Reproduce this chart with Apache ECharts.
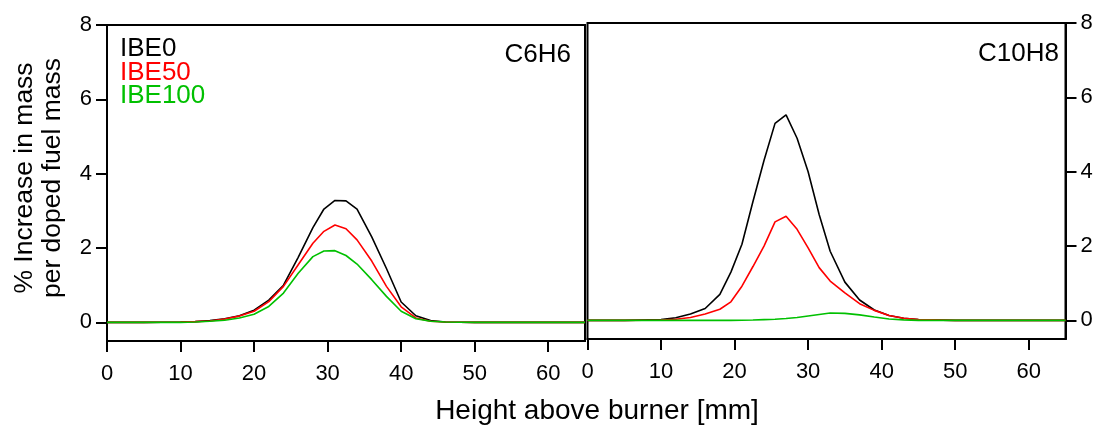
<!DOCTYPE html>
<html>
<head>
<meta charset="utf-8">
<script src="https://cdn.jsdelivr.net/npm/echarts@6/dist/echarts.min.js"></script>
<style>
html,body{margin:0;padding:0;background:#fff;}
#chart{width:1100px;height:427px;}
</style>
</head>
<body>
<div id="chart"></div>
<script>
// ---- data ----
var xTicks = [0, 10, 20, 30, 40, 50, 60];
var yTicks = [0, 2, 4, 6, 8];
var seriesNames = ['IBE0', 'IBE50', 'IBE100'];
var panelNames = ['C6H6', 'C10H8'];

// C6H6 panel: height above burner [mm]
var xC6H6 = [0,5,10,12,14,16,18,20,22,24,26,28,29.5,31,32.5,34,36,38,40,42,44,46,50,55,60,65];
var c6h6_IBE0   = [0,0,0.01,0.02,0.05,0.1,0.18,0.33,0.6,1.0,1.75,2.55,3.05,3.28,3.27,3.05,2.3,1.45,0.55,0.18,0.05,0.01,0,0,0,0];
var c6h6_IBE50  = [0,0,0.01,0.02,0.04,0.09,0.17,0.3,0.56,0.97,1.55,2.13,2.45,2.62,2.52,2.22,1.65,0.97,0.42,0.12,0.03,0.01,0,0,0,0];
var c6h6_IBE100 = [0,0,0,0.01,0.03,0.06,0.12,0.22,0.43,0.79,1.32,1.77,1.92,1.93,1.8,1.57,1.15,0.7,0.3,0.1,0.03,0.01,0,0,0,0];

// C10H8 panel
var xC10H8 = [0,5,10,12,14,16,18,19.5,21,22.5,24,25.5,27,28.5,30,31.5,33,35,37,39,41,43,45,50,55,60,65];
var c10h8_IBE0   = [0,0,0.02,0.07,0.17,0.32,0.7,1.3,2.05,3.2,4.3,5.3,5.53,4.9,4.0,2.85,1.86,1.03,0.55,0.28,0.13,0.06,0.02,0,0,0,0];
var c10h8_IBE50  = [0,0,0.01,0.03,0.08,0.17,0.3,0.5,0.92,1.45,2.0,2.65,2.8,2.45,1.95,1.42,1.06,0.74,0.45,0.27,0.13,0.06,0.02,0,0,0,0];
var c10h8_IBE100 = [0,0,0,0,0,0,0,0,0.005,0.01,0.02,0.03,0.05,0.08,0.12,0.16,0.2,0.19,0.15,0.09,0.04,0.015,0,0,0,0,0];

var colors = ['#000000', '#ff0000', '#00c000'];
var FONT = '"Liberation Sans", Arial, Helvetica, sans-serif';

function pairs(xs, ys) { return xs.map(function (x, i) { return [x, ys[i]]; }); }

function xAxisCfg(gridIndex) {
  return {
    type: 'value', gridIndex: gridIndex, min: 0, max: 65,
    axisLine: { show: true, onZero: false, lineStyle: { color: '#000', width: 2 } },
    axisTick: { show: true, length: 11, lineStyle: { color: '#000', width: 2 }, customValues: xTicks },
    axisLabel: { color: '#000', fontSize: 22, fontFamily: FONT, margin: 22, customValues: xTicks },
    splitLine: { show: false }
  };
}
function yAxisCfg(gridIndex, pos) {
  return {
    type: 'value', gridIndex: gridIndex, position: pos, min: -0.5, max: 8,
    axisLine: { show: true, onZero: false, lineStyle: { color: '#000', width: 2 } },
    axisTick: { show: true, length: 11, lineStyle: { color: '#000', width: 2 }, customValues: yTicks },
    axisLabel: { color: '#000', fontSize: 22, fontFamily: FONT, margin: 15, customValues: yTicks },
    splitLine: { show: false }
  };
}
function lineSeries(name, idx, xs, ys, panel) {
  return {
    name: name, type: 'line', xAxisIndex: panel, yAxisIndex: panel,
    data: pairs(xs, ys), symbol: 'none', smooth: false, animation: false,
    lineStyle: { color: colors[idx], width: 1.6 }, itemStyle: { color: colors[idx] }, z: 2 + idx
  };
}

var chart = echarts.init(document.getElementById('chart'), null, { renderer: 'canvas' });
chart.setOption({
  animation: false,
  backgroundColor: '#fff',
  grid: [
    { left: 107, top: 25, width: 478, height: 316, show: true, borderColor: '#000', borderWidth: 2, backgroundColor: 'transparent' },
    { left: 587.5, top: 23, width: 478, height: 316, show: true, borderColor: '#000', borderWidth: 2, backgroundColor: 'transparent' }
  ],
  xAxis: [xAxisCfg(0), xAxisCfg(1)],
  yAxis: [yAxisCfg(0, 'left'), yAxisCfg(1, 'right')],
  legend: {
    orient: 'vertical', left: 115, top: 36, padding: 0, itemGap: -2.5,
    itemWidth: 0, itemHeight: 0, icon: 'rect', selectedMode: false,
    textStyle: { fontSize: 26, fontFamily: FONT, lineHeight: 26 },
    data: seriesNames.map(function (n, i) { return { name: n, textStyle: { color: colors[i] } }; })
  },
  graphic: [
    { type: 'text', x: 571, y: 54.5, style: { text: panelNames[0], textAlign: 'right', textVerticalAlign: 'middle', font: '26px ' + FONT, fill: '#000' } },
    { type: 'text', x: 1059, y: 53.5, style: { text: panelNames[1], textAlign: 'right', textVerticalAlign: 'middle', font: '26px ' + FONT, fill: '#000' } },
    { type: 'text', x: 597, y: 411, style: { text: 'Height above burner [mm]', textAlign: 'center', textVerticalAlign: 'middle', font: '28px ' + FONT, fill: '#000' } },
    { type: 'text', x: 39, y: 178, rotation: Math.PI / 2, style: { text: '% Increase in mass\nper doped fuel mass', textAlign: 'center', textVerticalAlign: 'middle', font: '26.5px ' + FONT, lineHeight: 28, fill: '#000' } }
  ],
  series: [
    lineSeries(seriesNames[0], 0, xC6H6, c6h6_IBE0, 0),
    lineSeries(seriesNames[1], 1, xC6H6, c6h6_IBE50, 0),
    lineSeries(seriesNames[2], 2, xC6H6, c6h6_IBE100, 0),
    lineSeries(seriesNames[0], 0, xC10H8, c10h8_IBE0, 1),
    lineSeries(seriesNames[1], 1, xC10H8, c10h8_IBE50, 1),
    lineSeries(seriesNames[2], 2, xC10H8, c10h8_IBE100, 1)
  ]
});
</script>
</body>
</html>
